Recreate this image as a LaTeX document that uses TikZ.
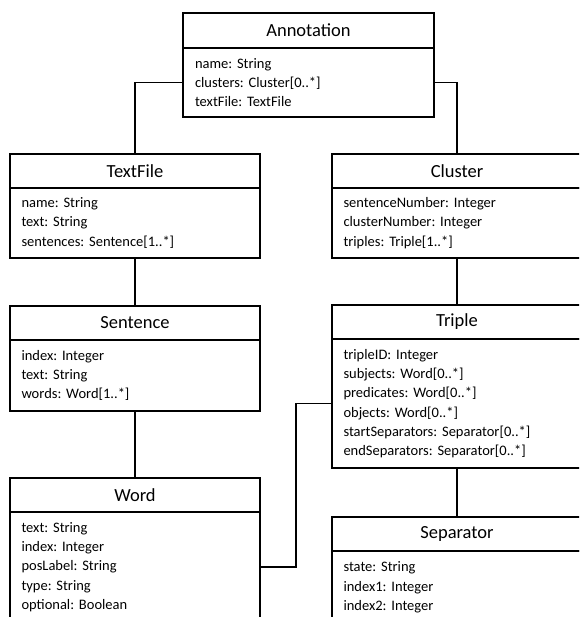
\documentclass[tikz,border=0pt]{standalone}
\usepackage{fontspec}
\setmainfont{Carlito}
\usepackage{tikz}
\usetikzlibrary{positioning}
\frenchspacing

\tikzset{
  classname/.style={draw, line width=1.2pt, outer sep=0pt, inner sep=0pt,
    minimum width=250pt, minimum height=34pt, anchor=north west,
    font=\fontsize{18.5}{22}\selectfont},
  classattr/.style={draw, line width=1.2pt, outer sep=0pt, inner xsep=11.5pt,
    inner ysep=0pt, minimum width=250pt, text width=227pt, align=left,
    font=\fontsize{14.5}{19.3}\selectfont},
}

\begin{document}
\begin{tikzpicture}[x=1pt, y=-1pt, line width=1.2pt]
\useasboundingbox (0,0) rectangle (579,617);
\clip (0,0) rectangle (579,617);
%%%%% Classes %%%%%
\node[classname, minimum width=251pt, minimum height=35pt] (annotation) at (183,13) {Annotation};
\node[classattr, minimum width=251pt, minimum height=69pt, below=0pt of annotation] (annotationattr)
  {name: String\\clusters: Cluster[0..*]\\textFile: TextFile};

\node[classname] (textfile) at (10,154) {TextFile};
\node[classattr, minimum height=70pt, below=0pt of textfile] (textfileattr)
  {name: String\\text: String\\sentences: Sentence[1..*]};

\node[classname] (cluster) at (332,154) {Cluster};
\node[classattr, minimum height=70pt, below=0pt of cluster] (clusterattr)
  {sentenceNumber: Integer\\clusterNumber: Integer\\triples: Triple[1..*]};

\node[classname] (sentence) at (10,306) {Sentence};
\node[classattr, minimum height=71pt, below=0pt of sentence] (sentenceattr)
  {index: Integer\\text: String\\words: Word[1..*]};

\node[classname] (triple) at (332,305) {Triple};
\node[classattr, minimum height=129pt, below=0pt of triple] (tripleattr)
  {tripleID: Integer\\subjects: Word[0..*]\\predicates: Word[0..*]\\objects: Word[0..*]\\startSeparators: Separator[0..*]\\endSeparators: Separator[0..*]};

\node[classname] (word) at (10,478) {Word};
\node[classattr, minimum height=110pt, below=0pt of word] (wordattr)
  {text: String\\index: Integer\\posLabel: String\\type: String\\optional: Boolean};

\node[classname] (separator) at (332,517) {Separator};
\node[classattr, minimum height=73pt, below=0pt of separator] (separatorattr)
  {state: String\\index1: Integer\\index2: Integer};

%%%%% Links %%%%%
\draw (annotationattr.west) -| (textfile.north);
\draw (annotationattr.east) -| (cluster.north);
\draw (textfileattr.south) -- (sentence.north);
\draw (sentenceattr.south) -- (word.north);
\draw (clusterattr.south) -- (triple.north);
\draw (tripleattr.south) -- (separator.north);
\draw (tripleattr.west) -- ++(-36,0) |- (wordattr.east);
\end{tikzpicture}
\end{document}
